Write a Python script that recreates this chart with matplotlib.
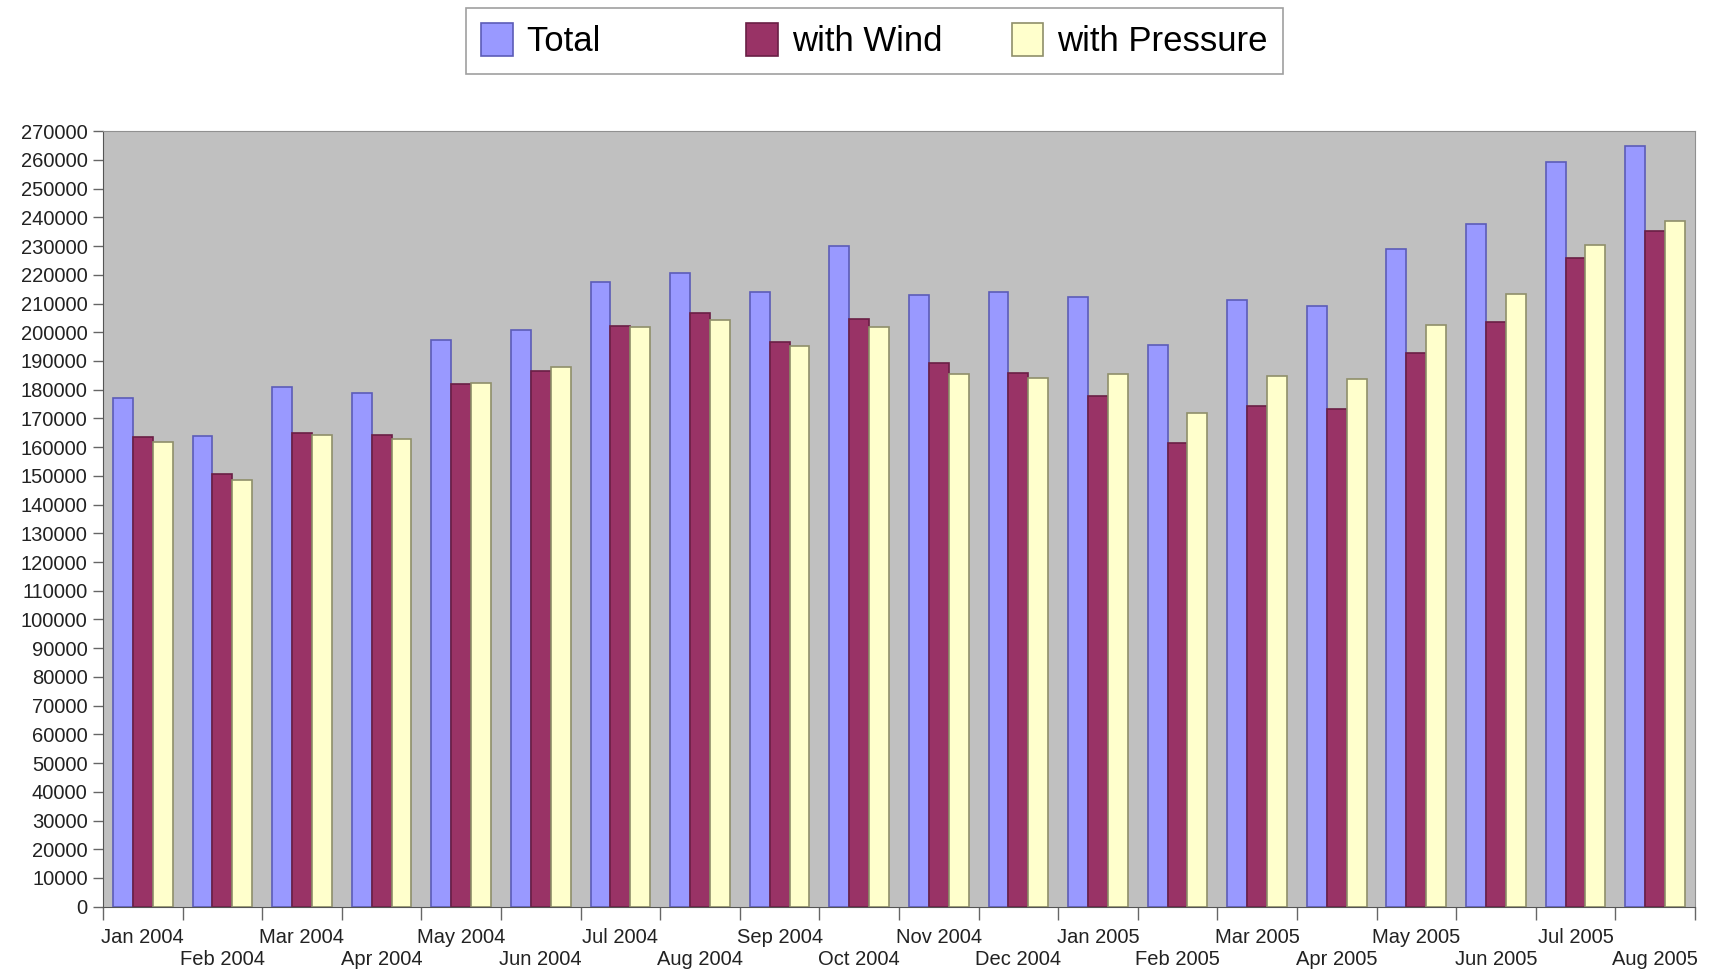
import matplotlib.pyplot as plt
import numpy as np
from matplotlib.patches import Patch

plt.rcParams['font.family'] = ['Liberation Sans', 'DejaVu Sans']

months = ['Jan 2004', 'Feb 2004', 'Mar 2004', 'Apr 2004', 'May 2004', 'Jun 2004',
          'Jul 2004', 'Aug 2004', 'Sep 2004', 'Oct 2004', 'Nov 2004', 'Dec 2004',
          'Jan 2005', 'Feb 2005', 'Mar 2005', 'Apr 2005', 'May 2005', 'Jun 2005',
          'Jul 2005', 'Aug 2005']
total = [177100, 164000, 180800, 178900, 197400, 200700, 217500, 220500, 213900, 229900,
         213100, 214000, 212200, 195400, 211100, 209300, 229100, 237700, 259300, 265000]
wind = [163500, 150500, 164900, 164300, 182100, 186400, 202100, 206700, 196500, 204700,
        189300, 185800, 177900, 161600, 174200, 173300, 192800, 203500, 225800, 235200]
pressure = [161800, 148700, 164300, 162900, 182300, 187900, 201700, 204400, 195100, 201700,
            185300, 184100, 185300, 172000, 184900, 183700, 202500, 213400, 230300, 238600]

series = [
    ('Total', total, '#9999ff', '#5c5cb8'),
    ('with Wind', wind, '#993366', '#6a1f45'),
    ('with Pressure', pressure, '#ffffcc', '#8f8f6a'),
]

fig = plt.figure(figsize=(17.11, 9.72), dpi=100)
ax = fig.add_axes([0.0602, 0.0672, 0.9304, 0.7978])
ax.set_facecolor('#c0c0c0')

x = np.arange(len(months))
w = 0.25
for i, (name, vals, fc, ec) in enumerate(series):
    ax.bar(x + (i - 1) * w, vals, width=w, color=fc, edgecolor=ec, linewidth=1.2, zorder=2)

ax.set_xlim(-0.5, len(months) - 0.5)
ax.set_ylim(0, 270000)
ax.set_yticks(np.arange(0, 270001, 10000))
ax.tick_params(axis='y', labelsize=14.5, length=7, width=1, color='#666666', pad=4,
               labelcolor='#222222')

# labels sit under the group centres, alternating between two rows
ax.set_xticks(x)
ax.set_xticklabels([m if i % 2 == 0 else '\n' + m for i, m in enumerate(months)])
ax.tick_params(axis='x', which='major', length=0, labelsize=14.5, pad=15,
               labelcolor='#222222')
for t in ax.get_xticklabels():
    t.set_linespacing(1.25)
ax.set_xticks(np.arange(-0.5, len(months), 1), minor=True)
ax.tick_params(axis='x', which='minor', length=9, width=1, color='#666666')

for s in ['left', 'bottom']:
    ax.spines[s].set_color('#555555')
for s in ['top', 'right']:
    ax.spines[s].set_color('#909090')

handles = [Patch(facecolor=fc, edgecolor=ec, linewidth=1.2) for _, _, fc, ec in series]
labels = ['Total' + ' ' * 8, 'with Wind', 'with Pressure']
leg = fig.legend(handles, labels, loc='upper center', bbox_to_anchor=(0.511, 0.992),
                 borderaxespad=0, ncol=3, fontsize=25, frameon=True, fancybox=False,
                 handlelength=0.9, handleheight=1.05, handletextpad=0.4,
                 columnspacing=2.0, borderpad=0.45, edgecolor='#888888')
leg.get_frame().set_linewidth(1.2)

plt.savefig('out.png', dpi=100)
